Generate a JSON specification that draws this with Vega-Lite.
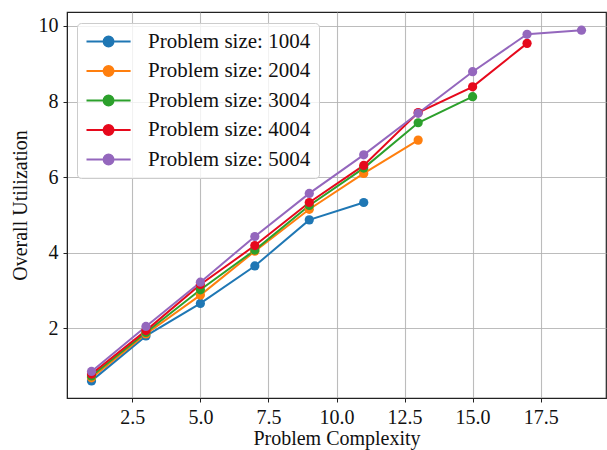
{
  "$schema": "https://vega.github.io/schema/vega-lite/v6.json",
  "width": 539,
  "height": 386,
  "autosize": {"type": "none"},
  "padding": {"left": 67, "top": 12, "right": 1, "bottom": 52},
  "config": {
    "font": "Liberation Serif",
    "view": {"stroke": "#222222", "strokeWidth": 1.2},
    "axis": {
      "labelFont": "Liberation Serif",
      "titleFont": "Liberation Serif",
      "labelFontSize": 20,
      "titleFontSize": 20,
      "labelColor": "#111111",
      "titleColor": "#111111",
      "titleFontWeight": "normal",
      "gridColor": "#b0b0b0",
      "gridWidth": 1.1,
      "gridOpacity": 0.85,
      "domainColor": "#222222",
      "tickColor": "#222222",
      "tickSize": 4,
      "labelPadding": 5
    }
  },
  "data": {
    "values": [
      {"series": "Problem size: 1004", "x": 1, "y": 0.61},
      {"series": "Problem size: 1004", "x": 3, "y": 1.80},
      {"series": "Problem size: 1004", "x": 5, "y": 2.66},
      {"series": "Problem size: 1004", "x": 7, "y": 3.65},
      {"series": "Problem size: 1004", "x": 9, "y": 4.87},
      {"series": "Problem size: 1004", "x": 11, "y": 5.33},
      {"series": "Problem size: 2004", "x": 1, "y": 0.69},
      {"series": "Problem size: 2004", "x": 3, "y": 1.85},
      {"series": "Problem size: 2004", "x": 5, "y": 2.88},
      {"series": "Problem size: 2004", "x": 7, "y": 4.04},
      {"series": "Problem size: 2004", "x": 9, "y": 5.15},
      {"series": "Problem size: 2004", "x": 11, "y": 6.10},
      {"series": "Problem size: 2004", "x": 13, "y": 6.98},
      {"series": "Problem size: 3004", "x": 1, "y": 0.74},
      {"series": "Problem size: 3004", "x": 3, "y": 1.89},
      {"series": "Problem size: 3004", "x": 5, "y": 3.02},
      {"series": "Problem size: 3004", "x": 7, "y": 4.07},
      {"series": "Problem size: 3004", "x": 9, "y": 5.25},
      {"series": "Problem size: 3004", "x": 11, "y": 6.24},
      {"series": "Problem size: 3004", "x": 13, "y": 7.44},
      {"series": "Problem size: 3004", "x": 15, "y": 8.13},
      {"series": "Problem size: 4004", "x": 1, "y": 0.79},
      {"series": "Problem size: 4004", "x": 3, "y": 1.94},
      {"series": "Problem size: 4004", "x": 5, "y": 3.16},
      {"series": "Problem size: 4004", "x": 7, "y": 4.19},
      {"series": "Problem size: 4004", "x": 9, "y": 5.33},
      {"series": "Problem size: 4004", "x": 11, "y": 6.31},
      {"series": "Problem size: 4004", "x": 13, "y": 7.71},
      {"series": "Problem size: 4004", "x": 15, "y": 8.39},
      {"series": "Problem size: 4004", "x": 17, "y": 9.54},
      {"series": "Problem size: 5004", "x": 1, "y": 0.86},
      {"series": "Problem size: 5004", "x": 3, "y": 2.05},
      {"series": "Problem size: 5004", "x": 5, "y": 3.22},
      {"series": "Problem size: 5004", "x": 7, "y": 4.43},
      {"series": "Problem size: 5004", "x": 9, "y": 5.57},
      {"series": "Problem size: 5004", "x": 11, "y": 6.59},
      {"series": "Problem size: 5004", "x": 13, "y": 7.69},
      {"series": "Problem size: 5004", "x": 15, "y": 8.79},
      {"series": "Problem size: 5004", "x": 17, "y": 9.78},
      {"series": "Problem size: 5004", "x": 19, "y": 9.89}
    ]
  },
  "encoding": {
    "x": {
      "field": "x", "type": "quantitative",
      "scale": {"domain": [0.1, 19.9], "nice": false, "zero": false},
      "axis": {"values": [2.5, 5, 7.5, 10, 12.5, 15, 17.5], "format": ".1f", "title": "Problem Complexity", "titlePadding": 1}
    },
    "y": {
      "field": "y", "type": "quantitative",
      "scale": {"domain": [0.157, 10.37], "nice": false, "zero": false},
      "axis": {"values": [2, 4, 6, 8, 10], "title": "Overall Utilization", "titlePadding": 8}
    },
    "color": {
      "field": "series", "type": "nominal",
      "scale": {"range": ["#1f77b4", "#ff7f0e", "#2ca02c", "#e6091c", "#9467bd"]},
      "legend": {
        "title": null,
        "orient": "none",
        "legendX": 10,
        "legendY": 11,
        "padding": 8,
        "fillColor": "rgba(255,255,255,0.8)",
        "strokeColor": "#cccccc",
        "cornerRadius": 4,
        "labelFont": "Liberation Serif",
        "labelFontSize": 21,
        "labelLimit": 400,
        "labelColor": "#111111",
        "symbolType": "M-1,0H3.9M0.9,0A0.55,0.55,0,1,1,2,0A0.55,0.55,0,1,1,0.9,0Z",
        "symbolSize": 324,
        "symbolStrokeWidth": 2,
        "labelOffset": 42,
        "rowPadding": 7.5,
        "encode": {
          "symbols": {
            "update": {
              "fill": {"scale": "color", "field": "value"},
              "stroke": {"scale": "color", "field": "value"},
              "fillOpacity": {"value": 1},
              "opacity": {"value": 1}
            }
          }
        }
      }
    }
  },
  "layer": [
    {"mark": {"type": "line", "strokeWidth": 2}},
    {"mark": {"type": "circle", "size": 85, "opacity": 1}}
  ]
}
